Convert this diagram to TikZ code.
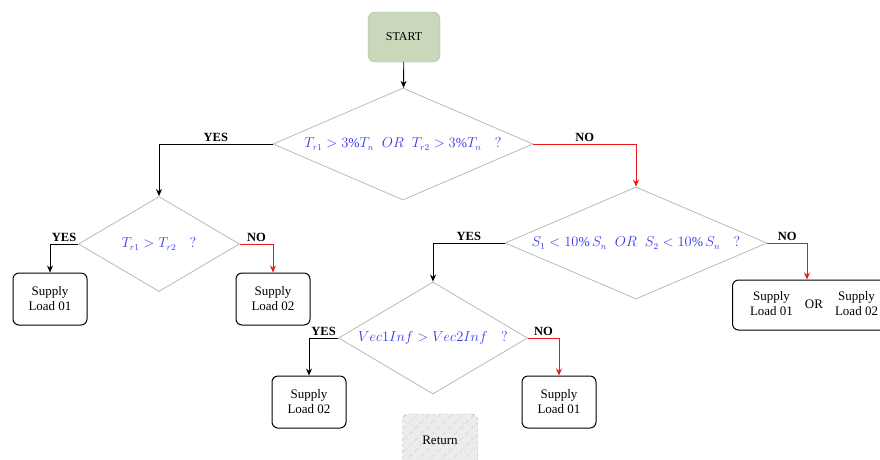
\documentclass[tikz,border=0pt]{standalone}
\usepackage{fontspec}
\setmainfont{Liberation Serif}
\usetikzlibrary{shapes.geometric,patterns.meta,arrows.meta}
\definecolor{startgreen}{RGB}{201,216,187}
\definecolor{qblue}{RGB}{55,55,235}
\definecolor{nored}{RGB}{235,25,25}

\begin{document}
\begin{tikzpicture}[x=1pt,y=-1pt,
 startbox/.style = {rectangle, rounded corners=7pt, draw=startgreen!60!gray, fill=startgreen, minimum width=72pt, minimum height=50pt, font=\fontsize{12}{14}\selectfont},
 loadbox/.style = {rectangle, rounded corners=6pt, draw, line width=1pt, minimum width=74pt, minimum height=52pt, align=center, font=\fontsize{13}{15}\selectfont},
 retbox/.style = {rectangle, rounded corners=6pt, draw=gray!70, dashed, fill=gray!15, minimum width=75pt, minimum height=52pt, font=\fontsize{13}{15}\selectfont,
   postaction={pattern={Lines[angle=45,distance=8pt,line width=0.5pt]}, pattern color=gray!35}},
 query/.style args = {#1/#2/#3}{diamond, draw=gray!55, line width=0.8pt, inner sep=0pt, aspect=#3, minimum width=#1pt, minimum height=#2pt, text=qblue, font=\fontsize{13.5}{15}\selectfont},
 yesline/.style = {draw, ->, >={Stealth[length=7pt,width=6pt]}, line width=0.9pt},
 noline/.style = {yesline, draw=nored},
 branch/.style = {pos=0.25, above=-1pt, font=\bfseries\fontsize{12.5}{14}\selectfont}]

\useasboundingbox (0,0) rectangle (880,459);

\node(start) [startbox] at (404,37) {START};

\node(q1) [query=260/112/2.32] at (403,144) {$T_{r1}>3\%T_n\;\;OR\;\;T_{r2}>3\%T_n\quad ?$};
\node(q2) [query=161/95/1.7] at (159,244) {$T_{r1}>T_{r2}\quad ?$};
\node(q3) [query=262/112/2.34] at (636,243) {$S_1<10\%\,S_n\;\;OR\;\;S_2<10\%\,S_n\quad ?$};
\node(q4) [query=189/112/1.69] at (433,338) {$Vec1Inf>Vec2Inf\quad ?$};

\node(ld1) [loadbox] at (50,299) {Supply\\Load 01};
\node(ld2) [loadbox] at (273,299) {Supply\\Load 02};
\node(ld3) [loadbox] at (309,402) {Supply\\Load 02};
\node(ld4) [loadbox] at (559,402) {Supply\\Load 01};
\node(either) [loadbox, minimum width=163pt, minimum height=50pt] at (814,305)
  {\begin{tabular}{@{}c@{}}Supply\\Load 01\end{tabular}\hspace{12pt}OR\hspace{12pt}\begin{tabular}{@{}c@{}}Supply\\Load 02\end{tabular}};

\node(ret) [retbox] at (440,440) {Return};
%
\draw[yesline] (start) -- (q1);
\draw[yesline] (q1.west) -| node[branch] {YES} (q2.north);
\draw[noline]  (q1.east) -| node[branch] {NO} (q3.north);
\draw[yesline] (q2.west) -| node[branch] {YES} (ld1.north);
\draw[noline]  (q2.east) -| node[branch] {NO} (ld2.north);
\draw[yesline] (q3.west) -| node[branch] {YES} (q4.north);
\draw[noline]  (q3.east) -| node[branch] {NO} ([xshift=-7pt]either.north);
\draw[yesline] (q4.west) -| node[branch] {YES} (ld3.north);
\draw[noline]  (q4.east) -| node[branch] {NO} (ld4.north);

\end{tikzpicture}
\end{document}
